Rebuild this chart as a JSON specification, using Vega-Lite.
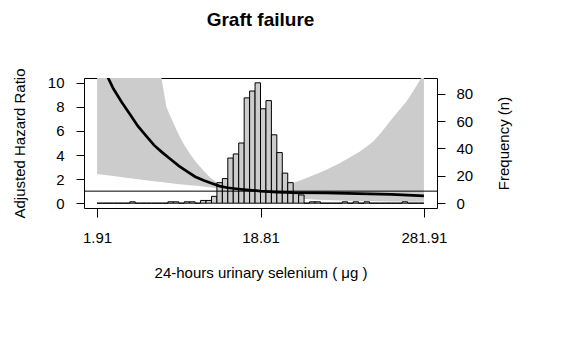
{
  "$schema": "https://vega.github.io/schema/vega-lite/v6.json",
  "width": 353,
  "height": 130,
  "autosize": {"type": "none"},
  "padding": {"left": 84, "top": 78, "right": 149, "bottom": 155},
  "background": "white",
  "title": {"text": "Graft failure", "font": "Liberation Sans", "fontSize": 19, "fontWeight": "bold", "color": "black", "offset": 38},
  "config": {
    "view": {"stroke": "black", "strokeWidth": 1},
    "axis": {"domain": false, "grid": false, "tickColor": "black", "tickWidth": 1, "labelColor": "black", "titleColor": "black", "labelFont": "Liberation Sans", "titleFont": "Liberation Sans", "labelFontSize": 15, "titleFontSize": 15, "titleFontWeight": "normal"}
  },
  "datasets": {
    "band": [
      {"x": 0, "lo": 2.43, "hi": 40},
      {"x": 0.05, "lo": 2.25, "hi": 30},
      {"x": 0.1, "lo": 2.07, "hi": 22},
      {"x": 0.15, "lo": 1.9, "hi": 15},
      {"x": 0.18, "lo": 1.8, "hi": 12},
      {"x": 0.197, "lo": 1.75, "hi": 10.4},
      {"x": 0.212, "lo": 1.7, "hi": 8.0},
      {"x": 0.228, "lo": 1.65, "hi": 7.0},
      {"x": 0.243, "lo": 1.6, "hi": 6.08},
      {"x": 0.263, "lo": 1.55, "hi": 5.0},
      {"x": 0.283, "lo": 1.5, "hi": 4.15},
      {"x": 0.303, "lo": 1.45, "hi": 3.4},
      {"x": 0.324, "lo": 1.38, "hi": 2.76},
      {"x": 0.345, "lo": 1.32, "hi": 2.15},
      {"x": 0.365, "lo": 1.25, "hi": 1.75},
      {"x": 0.4, "lo": 1.12, "hi": 1.45},
      {"x": 0.45, "lo": 0.98, "hi": 1.25},
      {"x": 0.5, "lo": 0.85, "hi": 1.18},
      {"x": 0.55, "lo": 0.62, "hi": 1.35},
      {"x": 0.6, "lo": 0.42, "hi": 1.68},
      {"x": 0.625, "lo": 0.36, "hi": 1.92},
      {"x": 0.65, "lo": 0.32, "hi": 2.2},
      {"x": 0.675, "lo": 0.29, "hi": 2.47},
      {"x": 0.7, "lo": 0.27, "hi": 2.76},
      {"x": 0.72, "lo": 0.25, "hi": 3.02},
      {"x": 0.742, "lo": 0.23, "hi": 3.32},
      {"x": 0.77, "lo": 0.21, "hi": 3.75},
      {"x": 0.803, "lo": 0.19, "hi": 4.28},
      {"x": 0.825, "lo": 0.18, "hi": 4.7},
      {"x": 0.844, "lo": 0.17, "hi": 5.1},
      {"x": 0.87, "lo": 0.16, "hi": 5.9},
      {"x": 0.895, "lo": 0.15, "hi": 6.77},
      {"x": 0.92, "lo": 0.14, "hi": 7.6},
      {"x": 0.946, "lo": 0.13, "hi": 8.42},
      {"x": 0.967, "lo": 0.125, "hi": 9.3},
      {"x": 0.987, "lo": 0.12, "hi": 10.2},
      {"x": 1.0, "lo": 0.11, "hi": 10.8}
    ],
    "hist": [
      {"x": 0, "x2": 0.016667, "n": 0},
      {"x": 0.016667, "x2": 0.033333, "n": 0},
      {"x": 0.033333, "x2": 0.05, "n": 0},
      {"x": 0.05, "x2": 0.066667, "n": 0},
      {"x": 0.066667, "x2": 0.083333, "n": 0},
      {"x": 0.083333, "x2": 0.1, "n": 0},
      {"x": 0.1, "x2": 0.116667, "n": 1},
      {"x": 0.116667, "x2": 0.133333, "n": 0},
      {"x": 0.133333, "x2": 0.15, "n": 0},
      {"x": 0.15, "x2": 0.166667, "n": 0},
      {"x": 0.166667, "x2": 0.183333, "n": 0},
      {"x": 0.183333, "x2": 0.2, "n": 0},
      {"x": 0.2, "x2": 0.216667, "n": 0},
      {"x": 0.216667, "x2": 0.233333, "n": 1},
      {"x": 0.233333, "x2": 0.25, "n": 1},
      {"x": 0.25, "x2": 0.266667, "n": 0},
      {"x": 0.266667, "x2": 0.283333, "n": 1},
      {"x": 0.283333, "x2": 0.3, "n": 1},
      {"x": 0.3, "x2": 0.316667, "n": 0},
      {"x": 0.316667, "x2": 0.333333, "n": 2},
      {"x": 0.333333, "x2": 0.35, "n": 2},
      {"x": 0.35, "x2": 0.366667, "n": 5},
      {"x": 0.366667, "x2": 0.383333, "n": 15},
      {"x": 0.383333, "x2": 0.4, "n": 18},
      {"x": 0.4, "x2": 0.416667, "n": 33},
      {"x": 0.416667, "x2": 0.433333, "n": 36},
      {"x": 0.433333, "x2": 0.45, "n": 44},
      {"x": 0.45, "x2": 0.466667, "n": 77},
      {"x": 0.466667, "x2": 0.483333, "n": 82},
      {"x": 0.483333, "x2": 0.5, "n": 88},
      {"x": 0.5, "x2": 0.516667, "n": 69},
      {"x": 0.516667, "x2": 0.533333, "n": 75},
      {"x": 0.533333, "x2": 0.55, "n": 50},
      {"x": 0.55, "x2": 0.566667, "n": 37},
      {"x": 0.566667, "x2": 0.583333, "n": 22},
      {"x": 0.583333, "x2": 0.6, "n": 15},
      {"x": 0.6, "x2": 0.616667, "n": 7},
      {"x": 0.616667, "x2": 0.633333, "n": 6},
      {"x": 0.633333, "x2": 0.65, "n": 0},
      {"x": 0.65, "x2": 0.666667, "n": 1},
      {"x": 0.666667, "x2": 0.683333, "n": 1},
      {"x": 0.683333, "x2": 0.7, "n": 0},
      {"x": 0.7, "x2": 0.716667, "n": 0},
      {"x": 0.716667, "x2": 0.733333, "n": 0},
      {"x": 0.733333, "x2": 0.75, "n": 0},
      {"x": 0.75, "x2": 0.766667, "n": 1},
      {"x": 0.766667, "x2": 0.783333, "n": 0},
      {"x": 0.783333, "x2": 0.8, "n": 1},
      {"x": 0.8, "x2": 0.816667, "n": 0},
      {"x": 0.816667, "x2": 0.833333, "n": 1},
      {"x": 0.833333, "x2": 0.85, "n": 0},
      {"x": 0.85, "x2": 0.866667, "n": 0},
      {"x": 0.866667, "x2": 0.883333, "n": 0},
      {"x": 0.883333, "x2": 0.9, "n": 0},
      {"x": 0.9, "x2": 0.916667, "n": 0},
      {"x": 0.916667, "x2": 0.933333, "n": 0},
      {"x": 0.933333, "x2": 0.95, "n": 1},
      {"x": 0.95, "x2": 0.966667, "n": 0},
      {"x": 0.966667, "x2": 0.983333, "n": 0},
      {"x": 0.983333, "x2": 1, "n": 0}
    ],
    "curve": [
      {"x": 0, "hr": 12.8},
      {"x": 0.025, "hr": 10.9},
      {"x": 0.05, "hr": 9.5},
      {"x": 0.075, "hr": 8.4},
      {"x": 0.1, "hr": 7.4},
      {"x": 0.125, "hr": 6.4},
      {"x": 0.15, "hr": 5.6},
      {"x": 0.175, "hr": 4.8},
      {"x": 0.2, "hr": 4.2},
      {"x": 0.225, "hr": 3.65},
      {"x": 0.25, "hr": 3.1},
      {"x": 0.275, "hr": 2.65},
      {"x": 0.3, "hr": 2.2},
      {"x": 0.325, "hr": 1.9},
      {"x": 0.35, "hr": 1.65},
      {"x": 0.375, "hr": 1.42},
      {"x": 0.4, "hr": 1.28},
      {"x": 0.425, "hr": 1.2},
      {"x": 0.45, "hr": 1.13},
      {"x": 0.475, "hr": 1.07},
      {"x": 0.5, "hr": 1.0},
      {"x": 0.55, "hr": 0.92},
      {"x": 0.6, "hr": 0.87},
      {"x": 0.7, "hr": 0.85},
      {"x": 0.8, "hr": 0.8},
      {"x": 0.9, "hr": 0.73},
      {"x": 1.0, "hr": 0.6}
    ]
  },
  "layer": [
    {
      "data": {"name": "band"},
      "mark": {"type": "area", "color": "#cccccc", "clip": true},
      "encoding": {
        "x": {"field": "x", "type": "quantitative", "scale": {"domain": [-0.04, 1.04], "nice": false, "zero": false},
              "axis": {"values": [0, 0.5, 1], "labelExpr": "datum.value == 0 ? '1.91' : datum.value == 0.5 ? '18.81' : '281.91'", "title": "24-hours urinary selenium ( μg )", "tickSize": 9, "labelPadding": 13, "titlePadding": 20}},
        "y": {"field": "lo", "type": "quantitative", "scale": {"domain": [-0.4, 10.4], "nice": false, "zero": false},
              "axis": {"orient": "left", "values": [0, 2, 4, 6, 8, 10], "title": "Adjusted Hazard Ratio", "tickSize": 8, "labelPadding": 12, "titlePadding": 20}},
        "y2": {"field": "hi"}
      }
    },
    {
      "data": {"name": "hist"},
      "mark": {"type": "bar", "fill": "#cccccc", "stroke": "black", "strokeWidth": 1},
      "encoding": {
        "x": {"field": "x", "type": "quantitative"},
        "x2": {"field": "x2"},
        "y": {"field": "n", "type": "quantitative", "scale": {"domain": [-3.52, 91.52], "nice": false, "zero": false},
              "axis": {"orient": "right", "values": [0, 20, 40, 60, 80], "title": "Frequency (n)", "titleAngle": 270, "titleBaseline": "top", "tickSize": 8, "labelPadding": 11, "titlePadding": 24}},
        "y2": {"datum": 0}
      }
    },
    {
      "data": {"name": "curve"},
      "mark": {"type": "line", "color": "black", "strokeWidth": 2.7, "clip": true},
      "encoding": {
        "x": {"field": "x", "type": "quantitative"},
        "y": {"field": "hr", "type": "quantitative", "scale": {"domain": [-0.4, 10.4], "nice": false, "zero": false}, "axis": null}
      }
    },
    {
      "data": {"values": [{"ref": 1}]},
      "mark": {"type": "rule", "color": "black", "strokeWidth": 1},
      "encoding": {
        "y": {"field": "ref", "type": "quantitative", "scale": {"domain": [-0.4, 10.4], "nice": false, "zero": false}, "axis": null}
      }
    }
  ],
  "resolve": {"scale": {"y": "independent"}}
}
